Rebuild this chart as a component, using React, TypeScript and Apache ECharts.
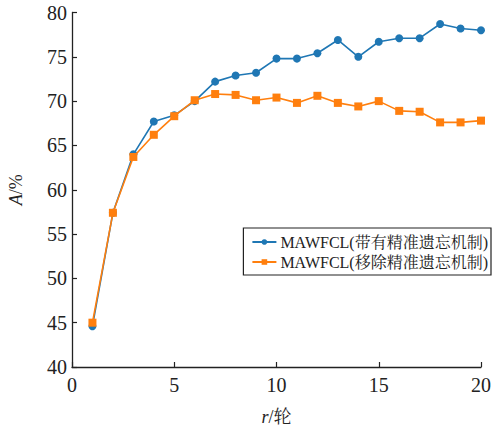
import React, { useEffect, useRef } from "react";
import * as echarts from "echarts";

const rounds = [1, 2, 3, 4, 5, 6, 7, 8, 9, 10, 11, 12, 13, 14, 15, 16, 17, 18, 19, 20];
const withForget = [44.6, 57.4, 64.0, 67.7, 68.4, 70.0, 72.2, 72.9, 73.2, 74.8, 74.8, 75.4, 76.9, 75.0, 76.7, 77.1, 77.1, 78.7, 78.2, 78.0];
const withoutForget = [45.0, 57.4, 63.7, 66.2, 68.3, 70.1, 70.8, 70.7, 70.1, 70.4, 69.8, 70.6, 69.8, 69.4, 70.0, 68.9, 68.8, 67.6, 67.6, 67.8];
const seriesNames = ["MAWFCL(带有精准遗忘机制)", "MAWFCL(移除精准遗忘机制)"];

const FONT = "'Liberation Serif', 'Noto Serif CJK SC', 'Noto Sans CJK SC', serif";
const INK = "#222";

export default function App() {
  const ref = useRef<HTMLDivElement>(null);
  useEffect(() => {
    const chart = echarts.init(ref.current!, null, { renderer: "svg" });
    chart.setOption({
      animation: false,
      backgroundColor: "#fff",
      textStyle: { fontFamily: FONT },
      grid: { left: 72, right: 12, top: 12.5, bottom: 61, containLabel: false, outerBoundsMode: "none" },
      legend: {
        orient: "vertical",
        right: 2,
        top: 228,
        backgroundColor: "#fff",
        borderColor: INK,
        borderWidth: 1.2,
        borderRadius: 0,
        padding: [5, 3, 4, 8],
        itemGap: 2,
        itemWidth: 24,
        itemHeight: 7,
        textStyle: { fontFamily: FONT, fontSize: 16, lineHeight: 18, color: INK, padding: [0, 0, 0, -1] },
        data: seriesNames,
      },
      xAxis: {
        type: "value",
        min: 0,
        max: 20,
        interval: 5,
        name: "{i|r}/轮",
        nameLocation: "middle",
        nameGap: 40,
        nameTextStyle: {
          fontFamily: FONT,
          fontSize: 18,
          lineHeight: 20,
          color: INK,
          rich: { i: { fontStyle: "italic", fontFamily: FONT, fontSize: 18, lineHeight: 20, color: INK } },
        },
        axisLine: { lineStyle: { color: INK, width: 1.3 } },
        axisTick: { inside: true, length: 5, lineStyle: { color: INK, width: 1.2 } },
        axisLabel: { fontFamily: FONT, fontSize: 20, color: INK, margin: 8 },
        splitLine: { show: false },
      },
      yAxis: {
        type: "value",
        min: 40,
        max: 80,
        interval: 5,
        name: "{i|A}/%",
        nameLocation: "middle",
        nameRotate: 90,
        nameGap: 47,
        nameTextStyle: {
          fontFamily: FONT,
          fontSize: 18,
          color: INK,
          rich: { i: { fontStyle: "italic", fontFamily: FONT, fontSize: 18, color: INK } },
        },
        axisLine: { show: true, lineStyle: { color: INK, width: 1.3 } },
        axisTick: { show: true, inside: true, length: 5, lineStyle: { color: INK, width: 1.2 } },
        axisLabel: { fontFamily: FONT, fontSize: 20, color: INK, margin: 5 },
        splitLine: { show: false },
      },
      series: [
        {
          name: seriesNames[0],
          type: "line",
          data: rounds.map((r, i) => [r, withForget[i]]),
          symbol: "circle",
          symbolSize: 8,
          itemStyle: { color: "#1f77b4" },
          lineStyle: { color: "#1f77b4", width: 1.6 },
          z: 3,
        },
        {
          name: seriesNames[1],
          type: "line",
          data: rounds.map((r, i) => [r, withoutForget[i]]),
          symbol: "rect",
          symbolSize: 8,
          itemStyle: { color: "#ff7f0e" },
          lineStyle: { color: "#ff7f0e", width: 1.6 },
          z: 4,
        },
      ],
    });
    return () => chart.dispose();
  }, []);
  return <div ref={ref} style={{ width: 493, height: 428, position: "absolute", left: 0, top: 0 }} />;
}
